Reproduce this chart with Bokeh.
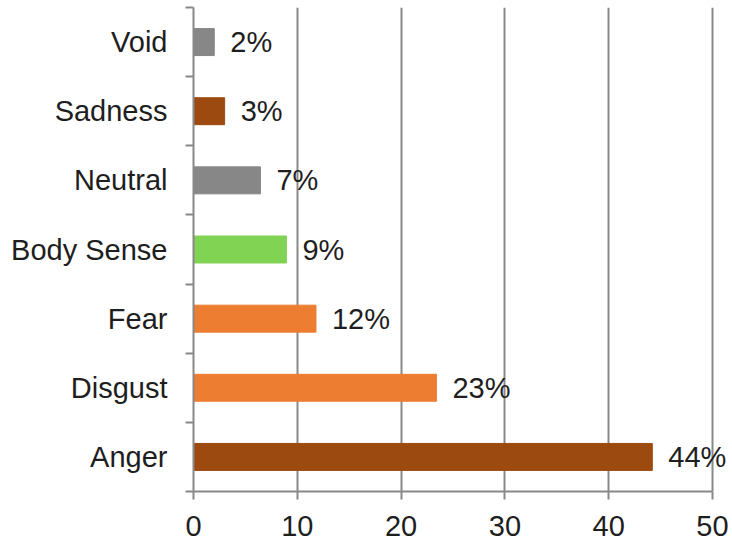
from bokeh.plotting import figure
from bokeh.models import ColumnDataSource, FixedTicker, Range1d, LabelSet
from bokeh.embed import file_html
from bokeh.resources import INLINE
from bokeh.core.properties import value

categories = ["Anger", "Disgust", "Fear", "Body Sense", "Neutral", "Sadness", "Void"]
values = [44.2, 23.4, 11.8, 8.95, 6.45, 3.0, 2.0]
labels = ["44%", "23%", "12%", "9%", "7%", "3%", "2%"]
colors = ["#9C4A0F", "#ED7D31", "#ED7D31", "#80D353", "#878787", "#9C4A0F", "#878787"]
x_ticks = [0, 10, 20, 30, 40, 50]
x_max = 50

FONT = "Liberation Sans"
FS = "29px"
GRAY = "#888888"
TXT = "#1e1e1e"

AXIS_W = 519          # pixel length of the 0..50 axis
EXTRA_W = 20          # room to the right for the last value label

ypos = [i + 0.5 for i in range(len(categories))]
src = ColumnDataSource(dict(y=ypos, v=values, lab=labels, c=colors))

p = figure(output_backend="svg", toolbar_location=None,
           frame_width=AXIS_W + EXTRA_W, frame_height=484,
           x_range=Range1d(0, x_max * (AXIS_W + EXTRA_W) / AXIS_W),
           y_range=Range1d(0, len(categories)),
           min_border_left=193, min_border_top=7, min_border_right=0,
           min_border_bottom=10)
p.outline_line_color = None
p.background_fill_color = "white"

p.hbar(y="y", left=0, right="v", height=0.39, color="c", source=src)
p.add_layout(LabelSet(x="v", y="y", text="lab", source=src, x_offset=16,
                      text_font=value(FONT), text_font_size=value(FS),
                      text_color=TXT, text_baseline="middle", text_align="left"))

# x axis
p.xaxis.ticker = FixedTicker(ticks=x_ticks)
p.xaxis.bounds = (0, x_max)
p.xaxis.axis_line_color = GRAY
p.xaxis.axis_line_width = 2
p.xaxis.major_tick_line_color = GRAY
p.xaxis.major_tick_line_width = 2
p.xaxis.major_tick_in = 0
p.xaxis.major_tick_out = 8
p.xaxis.minor_tick_line_color = None
p.xaxis.major_label_text_font = FONT
p.xaxis.major_label_text_font_size = FS
p.xaxis.major_label_text_color = TXT
p.xaxis.major_label_standoff = 16

# y axis: labels at centers, ticks at boundaries
p.yaxis.ticker = FixedTicker(ticks=ypos, minor_ticks=list(range(len(categories) + 1)))
p.yaxis.major_label_overrides = {y: c for y, c in zip(ypos, categories)}
p.yaxis.axis_line_color = GRAY
p.yaxis.axis_line_width = 2
p.yaxis.major_tick_line_color = None
p.yaxis.major_tick_in = 0
p.yaxis.major_tick_out = 8
p.yaxis.minor_tick_line_color = GRAY
p.yaxis.minor_tick_line_width = 2
p.yaxis.minor_tick_in = 0
p.yaxis.minor_tick_out = 8
p.yaxis.major_label_text_font = FONT
p.yaxis.major_label_text_font_size = FS
p.yaxis.major_label_text_color = TXT
p.yaxis.major_label_standoff = 18

p.xgrid.ticker = FixedTicker(ticks=x_ticks)
p.xgrid.grid_line_color = GRAY
p.xgrid.grid_line_width = 2
p.ygrid.grid_line_color = None

open("out.html", "w").write(file_html(p, INLINE))
